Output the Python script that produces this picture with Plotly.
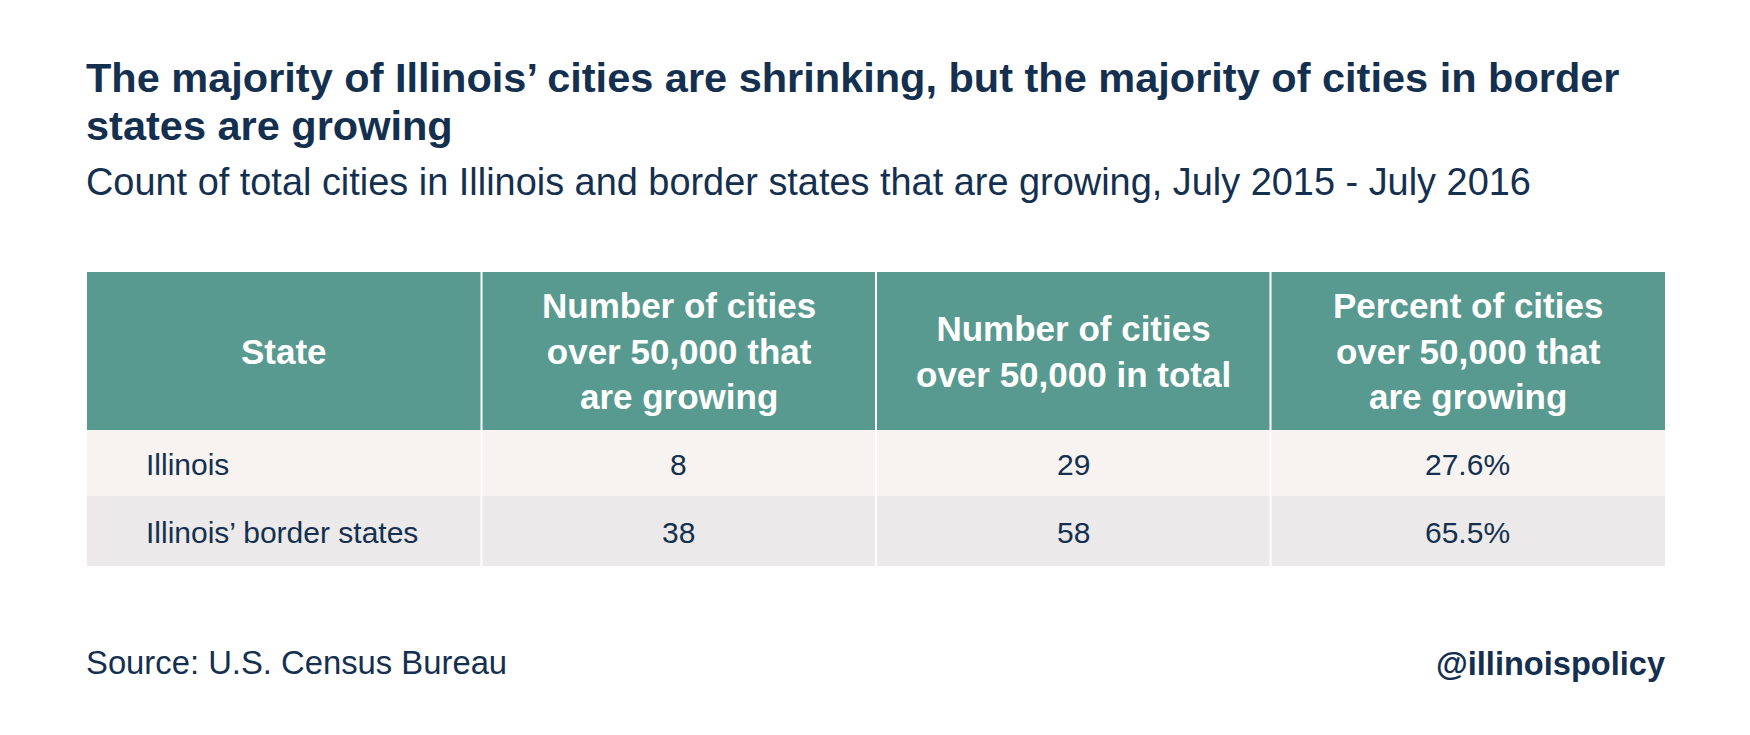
import plotly.graph_objects as go

# ---------------- data ----------------
title_lines = [
    "The majority of Illinois’ cities are shrinking, but the majority of cities in border",
    "states are growing",
]
subtitle = "Count of total cities in Illinois and border states that are growing, July 2015 - July 2016"
columns = [
    "State",
    "Number of cities<br>over 50,000 that<br>are growing",
    "Number of cities<br>over 50,000 in total",
    "Percent of cities<br>over 50,000 that<br>are growing",
]
states = ["Illinois", "Illinois’ border states"]
growing = [8, 38]
total = [29, 58]
percent = [27.6, 65.5]
source = "Source: U.S. Census Bureau"
handle = "@illinoispolicy"

# ---------------- style / layout ----------------
W, H = 1750, 735
OFF = 8  # page body margin offset
FONT = "Liberation Sans, Arial, Helvetica, sans-serif"
NAVY = "#15304f"
TEAL = "#599a90"
ROW_FILLS = ["#f6f3f0", "#ebe9e9"]
TL, TR = 87, 1665
TOP = 272
HEAD_H = 158
ROW_H = [66, 70]

ncol = len(columns)
colw = (TR - TL) / ncol
rows = [
    [s, str(g), str(t), f"{p:.1f}%"]
    for s, g, t, p in zip(states, growing, total, percent)
]

fig = go.Figure()
# invisible trace so the axes exist
fig.add_trace(go.Scatter(x=[OFF, W], y=[OFF, H], mode="markers",
                         marker=dict(opacity=0), hoverinfo="skip", showlegend=False))

shapes = []
annotations = []

# header background
shapes.append(dict(type="rect", xref="x", yref="y", x0=TL, x1=TR, y0=TOP, y1=TOP + HEAD_H,
                   fillcolor=TEAL, line=dict(width=0), layer="below"))
for j, label in enumerate(columns):
    cx = TL + colw * (j + 0.5)
    annotations.append(dict(xref="x", yref="y", x=cx, y=TOP + HEAD_H / 2, text=label,
                            showarrow=False, xanchor="center", yanchor="middle", align="center",
                            font=dict(family=FONT, size=35, color="white", weight="bold")))

# body rows
y0 = TOP + HEAD_H
for i, row in enumerate(rows):
    y1 = y0 + ROW_H[i]
    shapes.append(dict(type="rect", xref="x", yref="y", x0=TL, x1=TR, y0=y0, y1=y1,
                       fillcolor=ROW_FILLS[i % 2], line=dict(width=0), layer="below"))
    for j, val in enumerate(row):
        if j == 0:
            x, xa = TL + 57, "left"
        else:
            x, xa = TL + colw * (j + 0.5), "center"
        annotations.append(dict(xref="x", yref="y", x=x, y=(y0 + y1) / 2 + 1, text=val,
                                showarrow=False, xanchor=xa, yanchor="middle",
                                font=dict(family=FONT, size=30, color=NAVY)))
    y0 = y1
bottom = y0

# white column separators
for j in range(1, ncol):
    x = TL + colw * j
    shapes.append(dict(type="line", xref="x", yref="y", x0=x, x1=x, y0=TOP, y1=bottom,
                       line=dict(color="white", width=2), layer="above"))

# title, subtitle, footer
title_y = [77.5, 125.5]
for t, ty in zip(title_lines, title_y):
    annotations.append(dict(xref="x", yref="y", x=TL - 3, y=ty, text=t, showarrow=False,
                            xanchor="left", yanchor="middle",
                            font=dict(family=FONT, size=41.5, color=NAVY, weight="bold")))
annotations.append(dict(xref="x", yref="y", x=TL - 3, y=181.5, text=subtitle, showarrow=False,
                        xanchor="left", yanchor="middle",
                        font=dict(family=FONT, size=37.9, color=NAVY)))
annotations.append(dict(xref="x", yref="y", x=TL - 3, y=662.5, text=source, showarrow=False,
                        xanchor="left", yanchor="middle",
                        font=dict(family=FONT, size=32.8, color=NAVY)))
annotations.append(dict(xref="x", yref="y", x=TR + 2, y=663, text=handle, showarrow=False,
                        xanchor="right", yanchor="middle",
                        font=dict(family=FONT, size=32.6, color=NAVY, weight="bold")))

fig.update_layout(
    width=W, height=H,
    margin=dict(l=0, r=0, t=0, b=0),
    paper_bgcolor="white", plot_bgcolor="white",
    # axis ranges shifted by the page's body margin so positions land on window pixels
    xaxis=dict(range=[OFF, W + OFF], visible=False, fixedrange=True),
    yaxis=dict(range=[H + OFF, OFF], visible=False, fixedrange=True),
    shapes=shapes, annotations=annotations,
    showlegend=False,
)

fig.write_html("out.html", config={"displayModeBar": False})
